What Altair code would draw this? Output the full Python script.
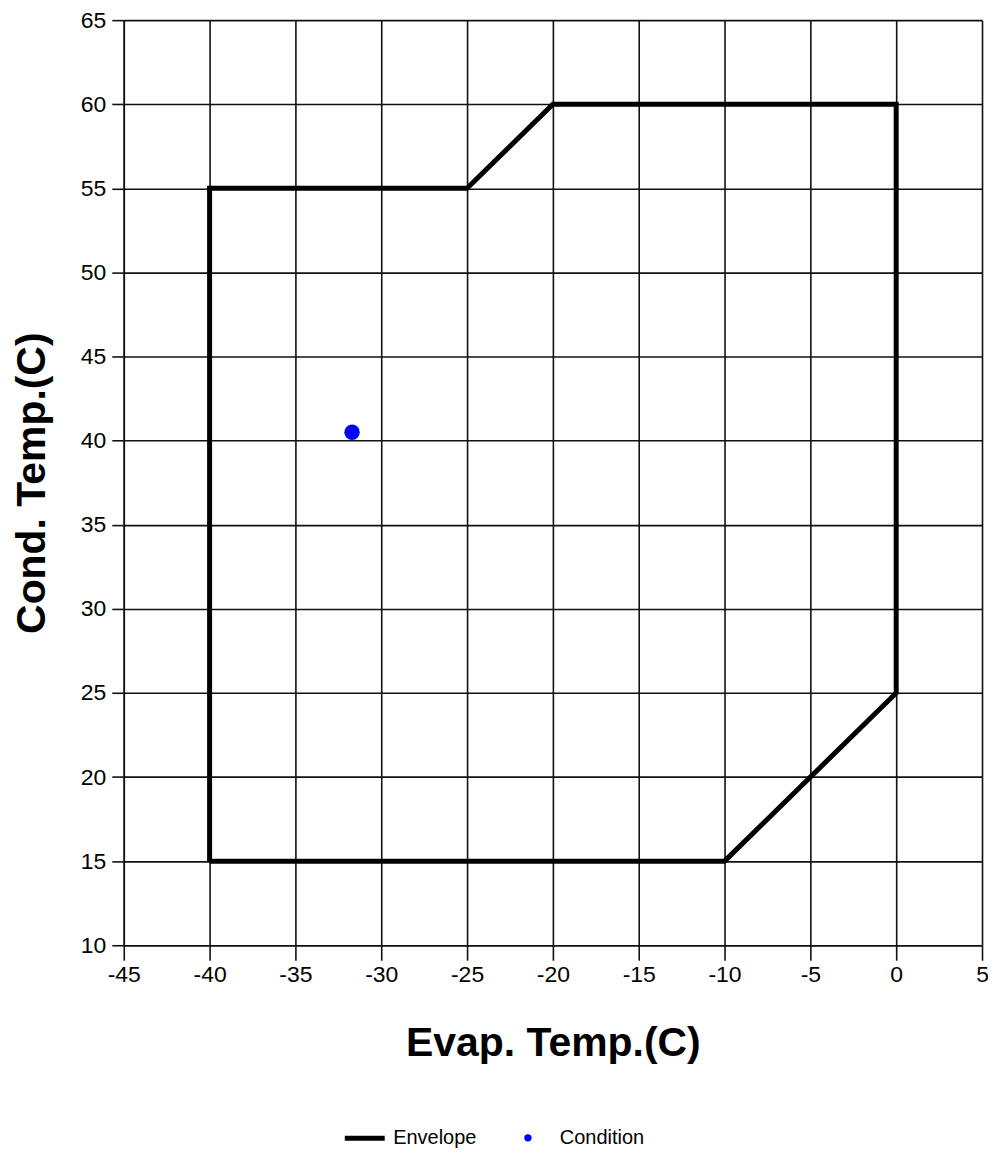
import altair as alt
import pandas as pd

env_x = [-40, -40, -25, -20, 0, 0, -10, -40]
env_y = [15, 55, 55, 60, 60, 25, 15, 15]
cond_x = [-31.7]
cond_y = [40.5]
x_ticks = list(range(-45, 10, 5))
y_ticks = list(range(10, 70, 5))

env = pd.DataFrame({"x": env_x, "y": env_y, "order": list(range(len(env_x))), "series": ["Envelope"] * len(env_x)})
cond = pd.DataFrame({"x": cond_x, "y": cond_y, "series": ["Condition"] * len(cond_x)})

FONT = "Liberation Sans"
xs = alt.Scale(domain=[-45, 5], nice=False, zero=False)
ys = alt.Scale(domain=[10, 65], nice=False, zero=False)

common = dict(grid=True, gridColor="#111", gridWidth=1.6, gridOpacity=1,
              domainColor="#111", domainWidth=1.6, tickColor="#111", tickWidth=1.6,
              labelFont=FONT, labelFontSize=23, labelColor="#000",
              labelExpr="'' + datum.value",
              titleFont=FONT, titleFontSize=41, titleFontWeight="bold", titleColor="#000",
              labelFlush=False, labelOverlap=False)

xaxis = alt.Axis(values=x_ticks, title="Evap. Temp.(C)", tickSize=15, labelPadding=3,
                 titlePadding=37, **common)
yaxis = alt.Axis(values=y_ticks, title="Cond. Temp.(C)", tickSize=12, labelPadding=6,
                 titlePadding=27, **common)

line = alt.Chart(env).mark_line(strokeWidth=5, strokeJoin="miter").encode(
    x=alt.X("x:Q", scale=xs, axis=xaxis),
    y=alt.Y("y:Q", scale=ys, axis=yaxis),
    order="order:Q",
    color=alt.Color("series:N", scale=alt.Scale(domain=["Envelope"], range=["#000000"]),
                    legend=alt.Legend(orient="none", legendX=219, legendY=1098, title=None,
                                      symbolType="stroke", symbolStrokeWidth=5, symbolSize=1600,
                                      symbolStrokeColor="#000", labelFont=FONT, labelFontSize=20,
                                      labelOffset=6, padding=0, labelColor="#000")),
)

pt = alt.Chart(cond).mark_point(filled=True, size=240, color="#0000FF", opacity=1).encode(
    x=alt.X("x:Q", scale=xs),
    y=alt.Y("y:Q", scale=ys),
    shape=alt.Shape("series:N", scale=alt.Scale(domain=["Condition"], range=["circle"]),
                    legend=alt.Legend(orient="none", legendX=395, legendY=1110, title=None,
                                      symbolFillColor="#0000FF", symbolStrokeColor="#0000FF",
                                      symbolStrokeWidth=0, symbolSize=55, symbolOpacity=1,
                                      labelFont=FONT, labelFontSize=20,
                                      labelOffset=22, padding=0, labelColor="#000")),
)

chart = alt.layer(line, pt).properties(
    width=860, height=927,
    autosize=alt.AutoSizeParams(type="none"),
    padding={"left": 116, "top": 11, "right": 6, "bottom": 203},
).configure_view(stroke="transparent")

chart.save("out.html", embed_options={"renderer": "svg", "actions": False})
